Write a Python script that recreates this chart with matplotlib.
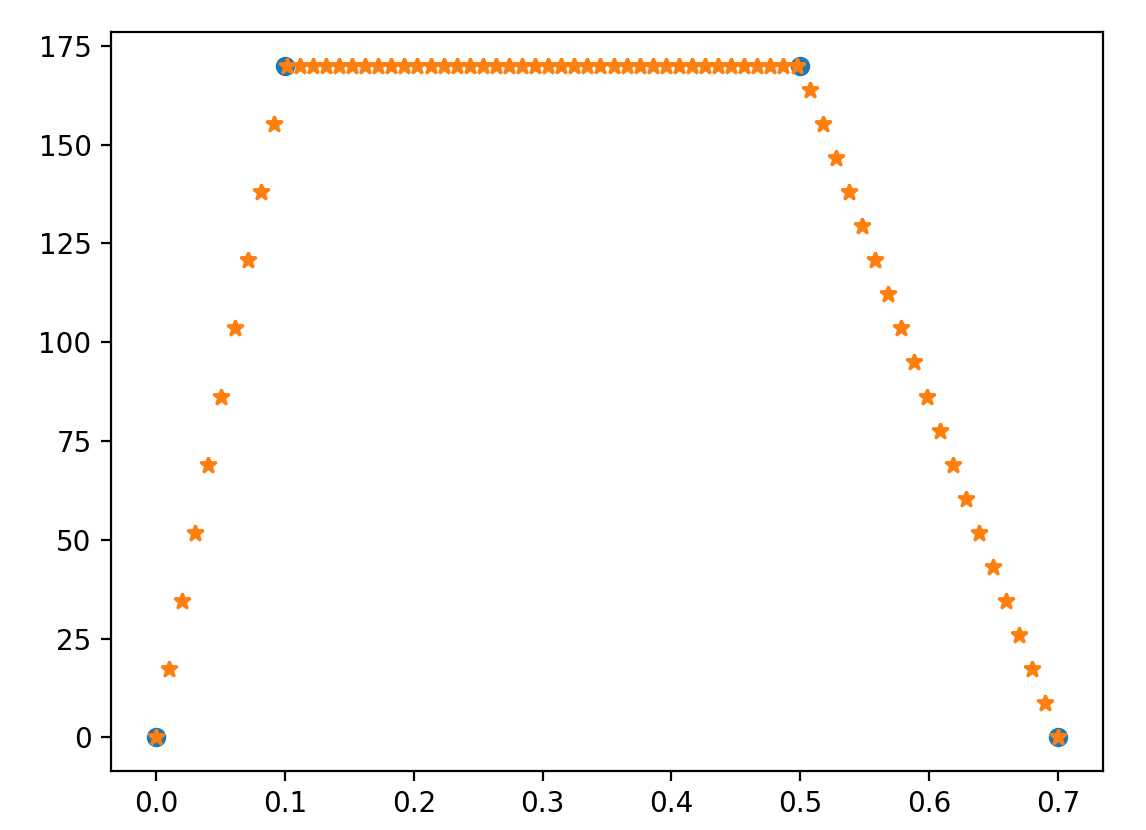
import numpy as np
import matplotlib.pyplot as plt

# key points of the profile
t_key = [0.0, 0.1, 0.5, 0.7]
v_key = [0, 170, 170, 0]

# sampled profile
t_s = [0.0, 0.0101, 0.0203, 0.0304, 0.0406, 0.0507, 0.0609, 0.0710, 0.0812, 0.0913,
       0.1014, 0.1116, 0.1217, 0.1319, 0.1420, 0.1522, 0.1623, 0.1725, 0.1826, 0.1928,
       0.2029, 0.2130, 0.2232, 0.2333, 0.2435, 0.2536, 0.2638, 0.2739, 0.2841, 0.2942,
       0.3043, 0.3145, 0.3246, 0.3348, 0.3449, 0.3551, 0.3652, 0.3754, 0.3855, 0.3957,
       0.4058, 0.4159, 0.4261, 0.4362, 0.4464, 0.4565, 0.4667, 0.4768, 0.4870, 0.4971,
       0.5072, 0.5174, 0.5275, 0.5377, 0.5478, 0.5580, 0.5681, 0.5783, 0.5884, 0.5986,
       0.6087, 0.6188, 0.6290, 0.6391, 0.6493, 0.6594, 0.6696, 0.6797, 0.6899, 0.7]
v_s = [0, 17.2, 34.5, 51.7, 69.0, 86.2, 103.5, 120.7, 138.0, 155.2,
       170, 170, 170, 170, 170, 170, 170, 170, 170, 170,
       170, 170, 170, 170, 170, 170, 170, 170, 170, 170,
       170, 170, 170, 170, 170, 170, 170, 170, 170, 170,
       170, 170, 170, 170, 170, 170, 170, 170, 170, 170,
       163.8, 155.2, 146.6, 138.0, 129.3, 120.7, 112.1, 103.5, 94.9, 86.2,
       77.6, 69.0, 60.4, 51.7, 43.1, 34.5, 25.9, 17.2, 8.6, 0]

fig = plt.figure(figsize=(5.73, 4.15), dpi=200)
ax = fig.add_axes([111/1146, 1-771/830, (1103-111)/1146, (771-32)/830])
ax.plot(t_key, v_key, 'o')
ax.plot(t_s, v_s, '*')
fig.savefig('out.png', dpi=200)
